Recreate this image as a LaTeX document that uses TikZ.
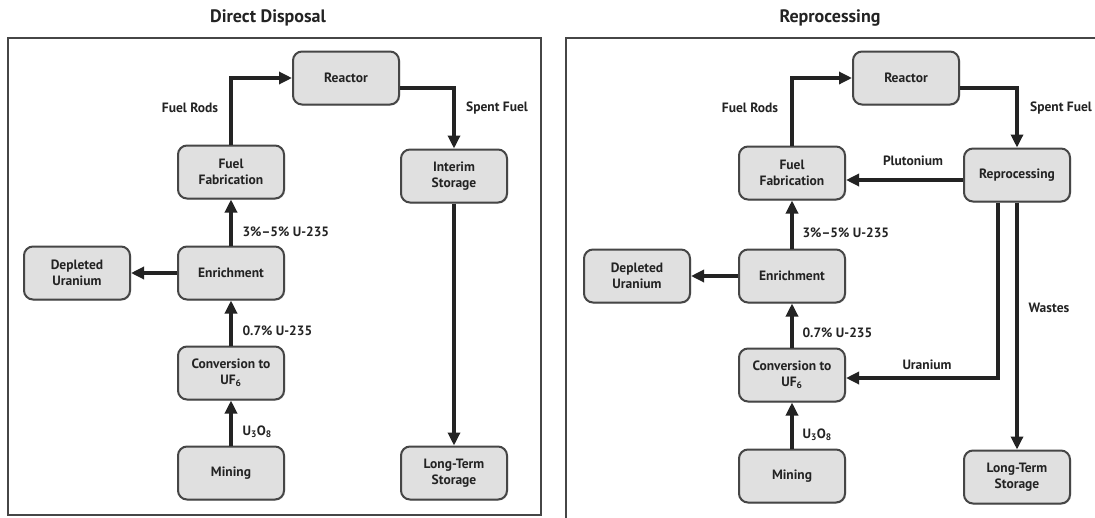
\documentclass[tikz,border=0pt]{standalone}
\usepackage{fontspec}
\setmainfont{PT Sans}
\usetikzlibrary{arrows.meta,shadows}
\definecolor{BoxFill}{RGB}{224,224,224}
\definecolor{BoxLine}{RGB}{70,70,70}
\definecolor{InkDark}{RGB}{35,35,35}

\begin{document}
\begin{tikzpicture}[
x=1pt,y=-1pt,
box/.style={
rectangle,
rounded corners=9pt,
draw=BoxLine,
line width=2pt,
fill=BoxFill,
minimum width=106pt,
minimum height=53pt,
align=center,
text=InkDark,
font=\bfseries\fontsize{13.5}{16}\selectfont,
drop shadow={shadow xshift=1pt,shadow yshift=-1pt,fill=black!35}
},
arrow/.style={
-{Triangle[length=13pt,width=12pt]},
line width=3.2pt,
draw=InkDark
},
flow/.style={
text=InkDark,
font=\bfseries\fontsize{13.5}{15}\selectfont
},
title/.style={
text=InkDark,
font=\bfseries\fontsize{18}{20}\selectfont
},
frame/.style={
draw=BoxLine,
line width=1.6pt
}
]
\useasboundingbox (0,0) rectangle (1095,517);
\clip (0,0) rectangle (1095,517);
\fill[white] (0,0) rectangle (1095,517);

% titles and frames
\node[title] (ddtitle) at (268,18) {Direct Disposal};
\node[title] (rptitle) at (830,18) {Reprocessing};
\draw[frame] (8,38) rectangle (541,515);
\draw[frame] (566,38) rectangle (1120,540);

% direct disposal
\node[box] (reactor) at (346,78) {Reactor};
\node[box] (fab) at (231,172) {Fuel\\Fabrication};
\node[box] (interim) at (454,176) {Interim\\Storage};
\node[box] (depleted) at (77,273) {Depleted\\Uranium};
\node[box] (enrich) at (231,273) {Enrichment};
\node[box] (conv) at (231,373) {Conversion to\\UF\textsubscript{6}};
\node[box] (mining) at (231,473) {Mining};
\node[box] (longterm) at (454,473) {Long-Term\\Storage};

\draw[arrow] (fab.north) |- (reactor.west);
\draw[arrow] ([yshift=-10pt]reactor.east) -| (interim.north);
\draw[arrow] (interim) -- (longterm);
\draw[arrow] (enrich) -- (fab);
\draw[arrow] (enrich) -- (depleted);
\draw[arrow] (conv) -- (enrich);
\draw[arrow] (mining) -- (conv);

\node[flow] (rods) at (190,108) {Fuel Rods};
\node[flow] (spent) at (497,108) {Spent Fuel};
\node[flow,anchor=west] (high) at (239,232) {3\%--5\% U-235};
\node[flow,anchor=west] (low) at (239,331) {0.7\% U-235};
\node[flow,anchor=west] (ore) at (239,432) {U\textsubscript{3}O\textsubscript{8}};

% reprocessing
\node[box] (rreactor) at (906,78) {Reactor};
\node[box] (rfab) at (792,173) {Fuel\\Fabrication};
\node[box] (rrepro) at (1017,175) {Reprocessing};
\node[box] (rdepleted) at (637,276) {Depleted\\Uranium};
\node[box] (renrich) at (792,276) {Enrichment};
\node[box] (rconv) at (792,375) {Conversion to\\UF\textsubscript{6}};
\node[box] (rmining) at (792,476) {Mining};
\node[box] (rlongterm) at (1017,477) {Long-Term\\Storage};

\draw[arrow] (rfab.north) |- (rreactor.west);
\draw[arrow] ([yshift=-10pt]rreactor.east) -| (rrepro.north);
\draw[arrow] ([yshift=-5pt]rrepro.west) -- ([yshift=-5pt]rrepro.west -| rfab.east);
\draw[arrow] ([xshift=-19pt]rrepro.south) |- ([yshift=-3pt]rconv.east);
\draw[arrow] (rrepro) -- (rlongterm);
\draw[arrow] (renrich) -- (rfab);
\draw[arrow] (renrich) -- (rdepleted);
\draw[arrow] (rconv) -- (renrich);
\draw[arrow] (rmining) -- (rconv);

\node[flow] (rrods) at (750,108) {Fuel Rods};
\node[flow] (rspent) at (1061,108) {Spent Fuel};
\node[flow] (pluto) at (913,161) {Plutonium};
\node[flow] (urani) at (927,365) {Uranium};
\node[flow] (waste) at (1049,308) {Wastes};
\node[flow,anchor=west] (rhigh) at (799,233) {3\%--5\% U-235};
\node[flow,anchor=west] (rlow) at (799,333) {0.7\% U-235};
\node[flow,anchor=west] (rore) at (799,435) {U\textsubscript{3}O\textsubscript{8}};

\end{tikzpicture}
\end{document}
